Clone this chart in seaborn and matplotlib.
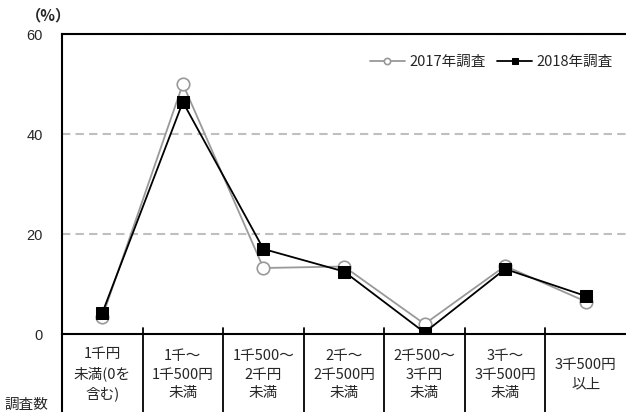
import pandas as pd
import matplotlib.pyplot as plt
import matplotlib.transforms as mtransforms
import seaborn as sns

# データ
categories = ['1千円\n未満(0を\n含む)', '1千～\n1千500円\n未満', '1千500～\n2千円\n未満',
              '2千～\n2千500円\n未満', '2千500～\n3千円\n未満', '3千～\n3千500円\n未満', '3千500円\n以上']
v2017 = [3.4, 50.0, 13.2, 13.5, 2.0, 13.6, 6.5]
v2018 = [4.2, 46.4, 17.0, 12.5, 0.3, 13.0, 7.6]
y_ticks = [0, 20, 40, 60]

df = pd.DataFrame({
    'x': list(range(len(categories))) * 2,
    'value': v2017 + v2018,
    'year': ['2017年調査'] * len(v2017) + ['2018年調査'] * len(v2018),
})

sns.set_style('white')
plt.rcParams['font.family'] = ['Noto Sans CJK JP', 'DejaVu Sans']

fig = plt.figure(figsize=(6.26, 4.12), dpi=100)
ax = fig.add_axes([62 / 626, 78 / 412, 564 / 626, 300 / 412])

ax.set_ylim(0, 60)
ax.set_xlim(-0.5, len(categories) - 0.5)
ax.set_yticks(y_ticks)
for y in y_ticks[1:]:
    ax.axhline(y, color='#bfbfbf', linestyle=(0, (4, 2.5)), linewidth=1.5, zorder=0)

sns.lineplot(data=df[df['year'] == '2017年調査'], x='x', y='value', ax=ax,
             color='#999999', linewidth=1.3, marker='o', markersize=9,
             markerfacecolor='white', markeredgecolor='#999999', markeredgewidth=1.2,
             label='2017年調査', zorder=3)
sns.lineplot(data=df[df['year'] == '2018年調査'], x='x', y='value', ax=ax,
             color='black', linewidth=1.3, marker='s', markersize=8,
             markerfacecolor='black', markeredgecolor='black',
             label='2018年調査', zorder=4)

# 軸
for s in ['left', 'bottom', 'top']:
    ax.spines[s].set_color('black')
    ax.spines[s].set_linewidth(1.5)
ax.spines['right'].set_visible(False)
ax.set_xticks([])
ax.set_xlabel('')
ax.set_ylabel('')
ax.tick_params(axis='y', length=0, labelsize=10.5, pad=14)
for t in ax.get_yticklabels():
    t.set_family(['Liberation Sans', 'DejaVu Sans'])

# 下の表
trans = mtransforms.blended_transform_factory(ax.transData, ax.transAxes)
for b in [i - 0.5 for i in range(len(categories))]:
    ax.plot([b, b], [-0.265, 0.02 if b > -0.5 else 0], transform=trans, color='black',
            linewidth=1.3 if b > -0.5 else 1.5, clip_on=False)
for i, lab in enumerate(categories):
    ax.text(i, -0.135, lab, transform=trans, ha='center', va='center',
            fontsize=10.5, linespacing=1.45)
fig.text(4 / 626, 1 - 405 / 412, '調査数', ha='left', va='center', fontsize=10.5)
fig.text(26 / 626, 1 - 15 / 412, '（%）', ha='left', va='center', fontsize=11,
         fontweight='bold')

leg = ax.legend(loc='upper right', ncol=2, frameon=False, fontsize=10.5,
                handlelength=2.4, columnspacing=0.8, handletextpad=0.3,
                bbox_to_anchor=(1.0, 0.975), markerscale=0.5)

fig.savefig('out.png', dpi=100)
